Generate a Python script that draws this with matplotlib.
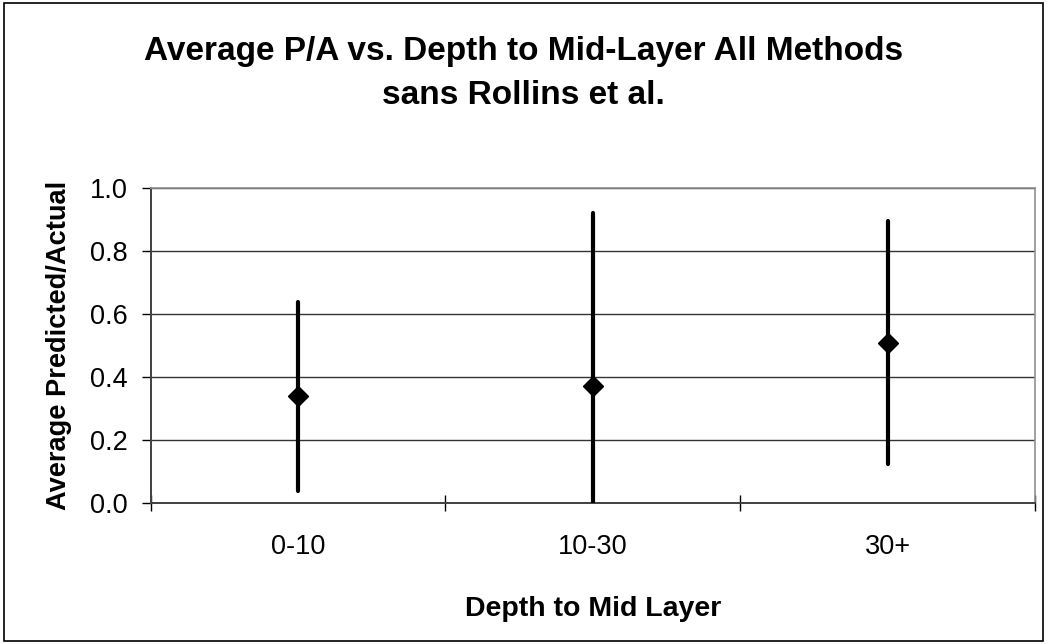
import numpy as np
import matplotlib.pyplot as plt
from matplotlib.patches import Rectangle

plt.rcParams['font.family'] = ['Liberation Sans', 'DejaVu Sans']

# average predicted/actual per depth bin, with one-std spread
depth_bins = ['0-10', '10-30', '30+']
avg_pa = [0.34, 0.373, 0.51]
spread = [0.30, 0.548, 0.385]
y_ticks = [0.0, 0.2, 0.4, 0.6, 0.8, 1.0]

fig = plt.figure(figsize=(10.47, 6.44), dpi=100)
ax = fig.add_axes([0.1439, 0.2185, 0.8446, 0.4891])

x = np.arange(len(depth_bins))
eb = ax.errorbar(x, avg_pa, yerr=spread, fmt='D', color='black', ms=10.5,
                 elinewidth=3.0, capsize=0, zorder=3)
for line in eb[2]:
    line.set_capstyle('round')

ax.set_xlim(-0.5, 2.5)
ax.set_ylim(0, 1.0)
ax.set_yticks(y_ticks)
ax.set_yticklabels([f'{v:.1f}' for v in y_ticks])
ax.set_xticks(x)
ax.set_xticklabels(depth_bins)
ax.set_xticks([-0.5, 0.5, 1.5, 2.5], minor=True)
ax.tick_params(axis='x', which='major', length=0, pad=22, labelsize=19.5)
ax.tick_params(axis='x', which='minor', direction='inout', length=12, width=1)
ax.tick_params(axis='y', direction='out', length=6.5, width=1, labelsize=19.5, pad=10)

ax.yaxis.grid(True, color='#333333', linewidth=1)
ax.set_axisbelow(True)
for side in ('top', 'right'):
    ax.spines[side].set_color('#909090')
    ax.spines[side].set_linewidth(1.2)
for side in ('left', 'bottom'):
    ax.spines[side].set_color('#404040')
    ax.spines[side].set_linewidth(1.4)

# axis titles
ax_mid_x = 0.1439 + 0.8446 / 2
ax_mid_y = 0.2185 + 0.4891 / 2
fig.text(ax_mid_x, 1 - 616 / 644, 'Depth to Mid Layer', ha='center', va='baseline',
         fontsize=20.5, fontweight='bold')
fig.text(59 / 1047, ax_mid_y, 'Average Predicted/Actual', ha='center', va='center',
         rotation=90, fontsize=19.6, fontweight='bold')

# chart title, two lines
fig.text(0.5, 1 - 60 / 644, 'Average P/A vs. Depth to Mid-Layer All Methods',
         ha='center', va='baseline', fontsize=24, fontweight='bold')
fig.text(0.5, 1 - 104 / 644, 'sans Rollins et al.',
         ha='center', va='baseline', fontsize=24, fontweight='bold')

# outer frame around the whole chart
fig.patches.append(Rectangle((0.004, 0.005), 0.992, 0.990, transform=fig.transFigure,
                             fill=False, edgecolor='black', linewidth=1.2))

fig.savefig('out.png', dpi=100)
